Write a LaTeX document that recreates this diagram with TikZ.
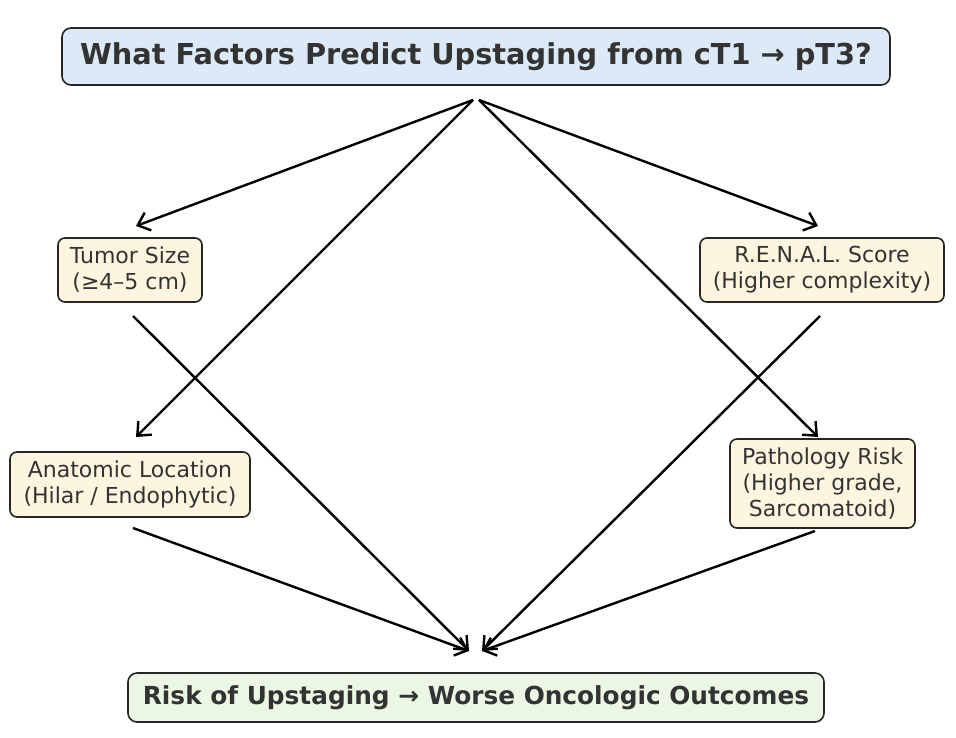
\documentclass[tikz,border=0pt]{standalone}
\usepackage{fontspec}
\setmainfont{DejaVu Sans}
\usetikzlibrary{arrows.meta,positioning}
\definecolor{txtgray}{RGB}{51,51,51}
\definecolor{qblue}{RGB}{220,233,246}
\definecolor{fcream}{RGB}{253,245,224}
\definecolor{rgreen}{RGB}{236,246,228}
\begin{document}
\begin{tikzpicture}[x=1pt, y=-1pt,
    factor/.style={draw=black!85, line width=1.6pt, rounded corners=7pt, fill=fcream,
                text=txtgray, align=center, inner sep=0pt,
                font=\fontsize{22}{26}\selectfont},
    arr/.style={-{Straight Barb[length=11pt, width=19pt, line width=2.4pt]}, line width=2.4pt, black}
  ]
    \useasboundingbox (0,0) rectangle (956,738);

    % Question
    \node[draw=black!85, line width=1.6pt, rounded corners=9pt, fill=qblue,
          minimum width=828pt, minimum height=57pt, text=txtgray,
          font=\fontsize{28.8}{34}\selectfont\bfseries] (question) at (476,56.5)
      {What Factors Predict Upstaging from cT1 → pT3?};

    % Factor nodes
    \node[factor, minimum width=144pt, minimum height=64pt] (size)      at (130,270)
      {Tumor Size\\(≥4–5 cm)};
    \node[factor, minimum width=244pt, minimum height=64pt] (renal)     at (822,270)
      {R.E.N.A.L. Score\\(Higher complexity)};
    \node[factor, minimum width=240pt, minimum height=65pt] (location)  at (130,484.5)
      {Anatomic Location\\(Hilar / Endophytic)};
    \node[factor, minimum width=185pt, minimum height=89pt] (pathology) at (822.5,483.5)
      {Pathology Risk\\(Higher grade,\\Sarcomatoid)};

    % Result
    \node[draw=black!85, line width=1.6pt, rounded corners=9pt, fill=rgreen,
          minimum width=696pt, minimum height=49pt, text=txtgray,
          font=\fontsize{24.8}{30}\selectfont\bfseries] (result) at (476,697.5)
      {Risk of Upstaging → Worse Oncologic Outcomes};

    % Connector ends
    \coordinate (q-left)  at (473,100);
    \coordinate (q-right) at (479,100);
    \coordinate (size-in)      at (136,226);
    \coordinate (renal-in)     at (818,226);
    \coordinate (location-in)  at (136,437);
    \coordinate (pathology-in) at (818,437);
    \coordinate (size-out)      at (133,316);
    \coordinate (renal-out)     at (820,316);
    \coordinate (location-out)  at (133,528);
    \coordinate (pathology-out) at (815,531);
    \coordinate (r-left)  at (469,651);
    \coordinate (r-right) at (482,651);

    % Arrows from question
    \draw[arr] (q-left)  -- (size-in);
    \draw[arr] (q-left)  -- (location-in);
    \draw[arr] (q-right) -- (renal-in);
    \draw[arr] (q-right) -- (pathology-in);

    % Arrows into result
    \draw[arr] (size-out)      -- (r-left);
    \draw[arr] (location-out)  -- (r-left);
    \draw[arr] (renal-out)     -- (r-right);
    \draw[arr] (pathology-out) -- (r-right);
  \end{tikzpicture}
\end{document}
